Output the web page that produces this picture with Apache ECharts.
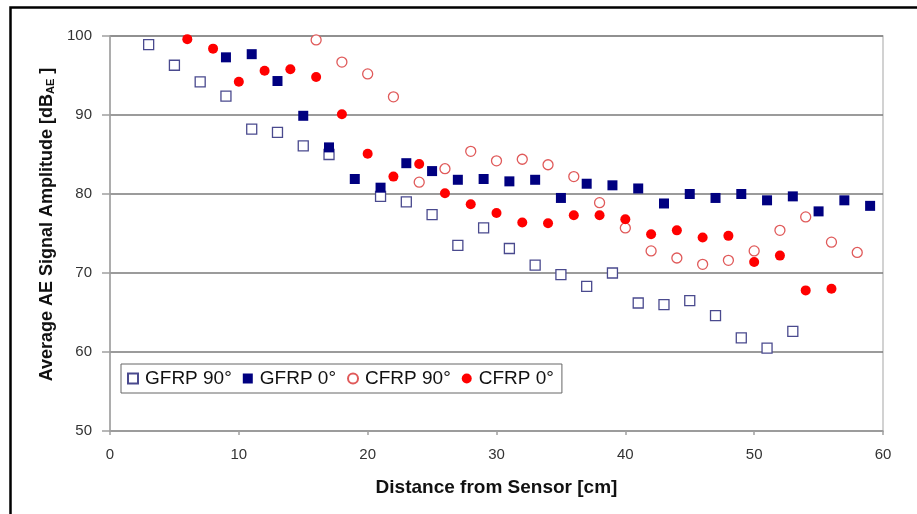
<!DOCTYPE html>
<html><head><meta charset="utf-8">
<script src="https://cdn.jsdelivr.net/npm/echarts@6/dist/echarts.min.js"></script>
<style>html,body{margin:0;padding:0;background:#fff}#c{width:917px;height:514px}</style>
</head><body><div id="c"></div>
<script>
var gfrp90X = [3,5,7,9,11,13,15,17,21,23,25,27,29,31,33,35,37,39,41,43,45,47,49,51,53];
var gfrp90Y = [98.9,96.3,94.2,92.4,88.2,87.8,86.1,85.0,79.7,79.0,77.4,73.5,75.7,73.1,71.0,69.8,68.3,70.0,66.2,66.0,66.5,64.6,61.8,60.5,62.6];
var gfrp0X = [9,11,13,15,17,19,21,23,25,27,29,31,33,35,37,39,41,43,45,47,49,51,53,55,57,59];
var gfrp0Y = [97.3,97.7,94.3,89.9,85.9,81.9,80.8,83.9,82.9,81.8,81.9,81.6,81.8,79.5,81.3,81.1,80.7,78.8,80.0,79.5,80.0,79.2,79.7,77.8,79.2,78.5];
var cfrp90X = [16,18,20,22,24,26,28,30,32,34,36,38,40,42,44,46,48,50,52,54,56,58];
var cfrp90Y = [99.5,96.7,95.2,92.3,81.5,83.2,85.4,84.2,84.4,83.7,82.2,78.9,75.7,72.8,71.9,71.1,71.6,72.8,75.4,77.1,73.9,72.6];
var cfrp0X = [6,8,10,12,14,16,18,20,22,24,26,28,30,32,34,36,38,40,42,44,46,48,50,52,54,56];
var cfrp0Y = [99.6,98.4,94.2,95.6,95.8,94.8,90.1,85.1,82.2,83.8,80.1,78.7,77.6,76.4,76.3,77.3,77.3,76.8,74.9,75.4,74.5,74.7,71.4,72.2,67.8,68.0];
var seriesNames = ['GFRP 90°','GFRP 0°','CFRP 90°','CFRP 0°'];

function pairs(xs, ys){ return xs.map(function(x,i){ return [x, ys[i]]; }); }

var chart = echarts.init(document.getElementById('c'), null, {renderer:'canvas'});
var font = 'Arial, "Liberation Sans", sans-serif';
chart.setOption({
  backgroundColor: '#fff',
  animation: false,
  graphic: [{
    type: 'rect', left: 8, top: 5, silent: true,
    shape: {width: 930, height: 530},
    style: {fill: 'none', stroke: '#000', lineWidth: 2.5}
  }],
  grid: {left: 110, right: 34, top: 36, bottom: 83, show: true, borderColor: '#c4c4c4', borderWidth: 1.5, backgroundColor: 'transparent'},
  legend: {
    left: 121, top: 364, orient: 'horizontal',
    data: seriesNames,
    borderColor: '#666', borderWidth: 1, backgroundColor: '#fff',
    padding: [5, 8, 5, 6], itemGap: 11, itemWidth: 10, itemHeight: 10,
    textStyle: {fontFamily: font, fontSize: 19, color: '#111', padding: [0,0,0,2]}
  },
  xAxis: {
    type: 'value', min: 0, max: 60, interval: 10,
    name: 'Distance from Sensor [cm]', nameLocation: 'middle', nameGap: 47,
    nameTextStyle: {fontFamily: font, fontSize: 19, fontWeight: 'bold', color: '#111'},
    axisLine: {show: true, lineStyle: {color: '#a0a0a0', width: 1.5}},
    axisTick: {show: true, inside: false, length: 4, lineStyle: {color: '#a0a0a0', width: 1.5}},
    axisLabel: {fontFamily: font, fontSize: 15, color: '#333', margin: 16},
    splitLine: {show: false}
  },
  yAxis: {
    type: 'value', min: 50, max: 100, interval: 10,
    name: 'Average AE Signal Amplitude [dB{sub|AE} ]', nameLocation: 'middle', nameGap: 53,
    nameTextStyle: {fontFamily: font, fontSize: 18, fontWeight: 'bold', color: '#111', padding: [0,0,0,18],
      rich: {sub: {fontFamily: font, fontSize: 11, fontWeight: 'bold', color: '#111', verticalAlign: 'bottom', padding: [8,0,0,0]}}},
    axisLine: {show: true, lineStyle: {color: '#a0a0a0', width: 1.5}},
    axisTick: {show: true, inside: false, length: 8, lineStyle: {color: '#a0a0a0', width: 1.5}},
    axisLabel: {fontFamily: font, fontSize: 15, color: '#333', margin: 18},
    splitLine: {show: true, lineStyle: {color: '#7a7a7a', width: 1.5}}
  },
  series: [
    {name: seriesNames[0], type: 'scatter', symbol: 'rect', symbolSize: 10, z: 3,
     data: pairs(gfrp90X, gfrp90Y),
     itemStyle: {color: '#fff', borderColor: '#4a4a8e', borderWidth: 1.3, opacity: 1}},
    {name: seriesNames[1], type: 'scatter', symbol: 'rect', symbolSize: 10, z: 4,
     data: pairs(gfrp0X, gfrp0Y),
     itemStyle: {color: '#000080', borderColor: '#000080', borderWidth: 0, opacity: 1}},
    {name: seriesNames[2], type: 'scatter', symbol: 'circle', symbolSize: 10, z: 3,
     data: pairs(cfrp90X, cfrp90Y),
     itemStyle: {color: '#fff', borderColor: '#e05a5a', borderWidth: 1.3, opacity: 1}},
    {name: seriesNames[3], type: 'scatter', symbol: 'circle', symbolSize: 10, z: 4,
     data: pairs(cfrp0X, cfrp0Y),
     itemStyle: {color: '#ff0000', borderColor: '#ff0000', borderWidth: 0, opacity: 1}}
  ]
});
</script></body></html>
